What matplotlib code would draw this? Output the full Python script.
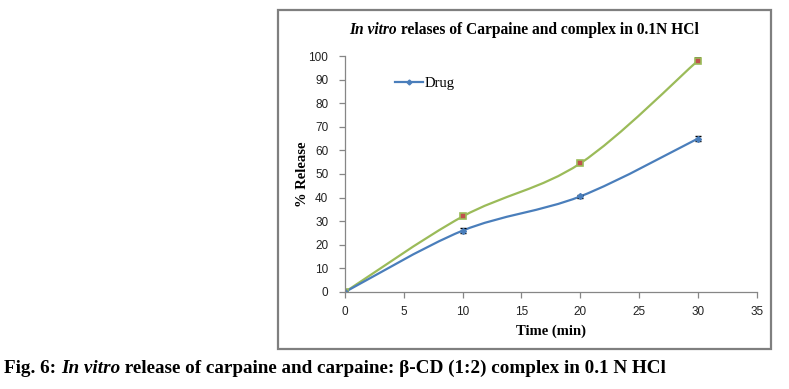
import numpy as np
import matplotlib.pyplot as plt
from matplotlib.path import Path
from matplotlib.patches import PathPatch, Rectangle

# data
TIME_MIN = [0, 10, 20, 30]
DRUG_RELEASE = [0, 26, 40.5, 65]
DRUG_ERR = [0.4, 1.0, 0.6, 1.0]
COMPLEX_RELEASE = [0, 32, 54.5, 98]
COMPLEX_ERR = [0.4, 0.8, 0.7, 1.0]

X_TICKS = list(range(0, 36, 5))
Y_TICKS = list(range(0, 101, 10))

BLUE = "#4A7EBB"
GREEN = "#9BBB59"
AXIS_GREY = "#868686"
SERIF = "Liberation Serif"
SANS = "Liberation Sans"


def smooth_path(xs, ys):
    # Excel style smoothed line: cubic Bezier segments through the points
    pts = np.column_stack([xs, ys]).astype(float)
    padded = np.vstack([pts[0], pts, pts[-1]])
    verts = [pts[0]]
    codes = [Path.MOVETO]
    for i in range(len(pts) - 1):
        p0, p1, p2, p3 = padded[i], padded[i + 1], padded[i + 2], padded[i + 3]
        verts += [p1 + (p2 - p0) / 6, p2 - (p3 - p1) / 6, p2]
        codes += [Path.CURVE4] * 3
    return Path(verts, codes)


def mixed_text(fig, x, y, parts, size, ha="center"):
    # parts: list of (text, style) placed one after another on one baseline
    renderer = fig.canvas.get_renderer()
    artists = []
    for text, style in parts:
        artists.append(fig.text(0, y, text, fontsize=size, fontweight="bold",
                                fontstyle=style, family=SERIF, va="baseline"))
    widths = [a.get_window_extent(renderer).width for a in artists]
    total = sum(widths)
    fig_w = fig.get_size_inches()[0] * fig.dpi
    start = x * fig_w - (total / 2 if ha == "center" else 0)
    for a, w in zip(artists, widths):
        a.set_x(start / fig_w)
        start += w


fig = plt.figure(figsize=(7.89, 3.89), dpi=100)
ax = fig.add_axes([0.4373, 0.2494, 0.5217, 0.6066])

# outer chart frame
fig.patches.append(Rectangle((278 / 789, 1 - 349 / 389), 493 / 789, 339 / 389,
                             transform=fig.transFigure, fill=False,
                             edgecolor="#7f7f7f", linewidth=1.6))

ax.add_patch(PathPatch(smooth_path(TIME_MIN, COMPLEX_RELEASE), fill=False,
                       edgecolor=GREEN, linewidth=1.6))
ax.add_patch(PathPatch(smooth_path(TIME_MIN, DRUG_RELEASE), fill=False,
                       edgecolor=BLUE, linewidth=1.6))

ax.errorbar(TIME_MIN, COMPLEX_RELEASE, yerr=COMPLEX_ERR, fmt="s",
            markersize=4, markerfacecolor="#C0504D", markeredgecolor=GREEN,
            markeredgewidth=1.2, ecolor="black", elinewidth=0.8, capsize=2.5,
            label="_nolegend_")
ax.errorbar(TIME_MIN, DRUG_RELEASE, yerr=DRUG_ERR, fmt="D", markersize=3,
            color=BLUE, ecolor="black", elinewidth=0.8, capsize=2.5,
            label="_nolegend_")

# legend entry only for the drug series
ax.plot([], [], color=BLUE, linewidth=1.6, marker="D", markersize=2.5,
        label="Drug")
ax.legend(loc="center left", bbox_to_anchor=(0.09, 0.885),
          frameon=False, handlelength=1.9, handletextpad=0.15,
          prop={"family": SERIF, "size": 10.5})

ax.set_xlim(0, 35)
ax.set_ylim(0, 100)
ax.set_xticks(X_TICKS)
ax.set_yticks(Y_TICKS)
for side in ["top", "right"]:
    ax.spines[side].set_visible(False)
for side in ["left", "bottom"]:
    ax.spines[side].set_color(AXIS_GREY)
    ax.spines[side].set_linewidth(0.9)
ax.tick_params(axis="both", direction="out", length=4, width=0.9,
               color=AXIS_GREY, labelsize=8.5, labelcolor="#222222")
for label in ax.get_xticklabels() + ax.get_yticklabels():
    label.set_family(SANS)
ax.tick_params(axis="y", pad=8)
ax.tick_params(axis="x", pad=6)

ax.set_xlabel("Time (min)", family=SERIF, fontweight="bold", fontsize=10.5)
ax.set_ylabel("% Release", family=SERIF, fontweight="bold", fontsize=10.5)
ax.xaxis.set_label_coords(0.5, -0.165)
ax.yaxis.set_label_coords(-0.104, 0.5)
ax.yaxis.label.set_va("center")
ax.xaxis.label.set_va("center")

mixed_text(fig, 524 / 789, 1 - 34 / 389,
           [("In vitro", "italic"),
            (" relases of Carpaine and complex in 0.1N HCl", "normal")],
           size=11.2)
mixed_text(fig, 4 / 789, 1 - 373 / 389,
           [("Fig. 6: ", "normal"), ("In vitro", "italic"),
            (" release of carpaine and carpaine: \u03b2-CD (1:2) complex in 0.1 N HCl",
             "normal")],
           size=13.8, ha="left")

fig.savefig("out.png", dpi=100)
